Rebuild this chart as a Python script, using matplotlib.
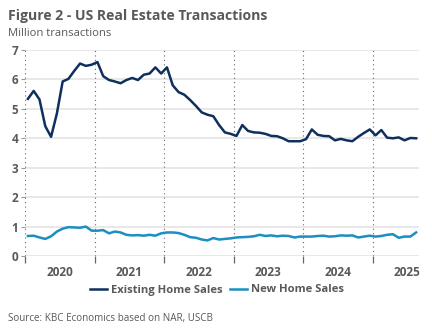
import matplotlib
matplotlib.use("Agg")
import matplotlib.pyplot as plt
import numpy as np

plt.rcParams['font.family'] = ['Open Sans', 'DejaVu Sans']

# Monthly data, Jan 2020 - Aug 2025 (million units, SAAR)
years = ["2020", "2021", "2022", "2023", "2024", "2025"]
existing_home_sales = [
    5.34, 5.61, 5.32, 4.41, 4.05, 4.84, 5.93, 6.02, 6.29, 6.54, 6.46, 6.50,   # 2020
    6.59, 6.11, 5.98, 5.93, 5.87, 5.98, 6.05, 5.98, 6.16, 6.20, 6.41, 6.20,   # 2021
    6.41, 5.80, 5.57, 5.48, 5.30, 5.10, 4.88, 4.80, 4.75, 4.45, 4.20, 4.15,   # 2022
    4.08, 4.45, 4.25, 4.20, 4.19, 4.15, 4.08, 4.07, 4.00, 3.90, 3.90, 3.90,   # 2023
    3.97, 4.30, 4.12, 4.08, 4.07, 3.93, 3.98, 3.93, 3.90, 4.05, 4.18, 4.30,   # 2024
    4.10, 4.28, 4.02, 4.00, 4.03, 3.93, 4.01, 4.00,                           # 2025
]
new_home_sales = [
    0.68, 0.69, 0.63, 0.58, 0.67, 0.83, 0.93, 0.98, 0.97, 0.96, 1.00, 0.86,   # 2020
    0.86, 0.88, 0.77, 0.83, 0.80, 0.72, 0.70, 0.71, 0.69, 0.72, 0.69, 0.77,   # 2021
    0.80, 0.80, 0.78, 0.72, 0.64, 0.62, 0.56, 0.53, 0.61, 0.56, 0.58, 0.60,   # 2022
    0.63, 0.64, 0.65, 0.67, 0.72, 0.68, 0.70, 0.67, 0.69, 0.68, 0.63, 0.66,   # 2023
    0.66, 0.66, 0.68, 0.69, 0.66, 0.67, 0.70, 0.69, 0.70, 0.63, 0.66, 0.69,   # 2024
    0.66, 0.68, 0.72, 0.74, 0.62, 0.66, 0.66, 0.80,                           # 2025
]
series_names = ["Existing Home Sales", "New Home Sales"]

GREY = "#595959"
NAVY = "#0f2f5c"
BLUE = "#1b8ec2"

fig = plt.figure(figsize=(4.32, 3.34), dpi=100)
ax = fig.add_axes([25 / 432, (334 - 256) / 334, (419 - 25) / 432, (256 - 50) / 334])

x = np.arange(len(existing_home_sales))
ax.plot(x, existing_home_sales, color=NAVY, lw=1.8, label=series_names[0],
        solid_joinstyle="round", zorder=3)
ax.plot(x, new_home_sales, color=BLUE, lw=1.8, label=series_names[1],
        solid_joinstyle="round", zorder=3)

ax.set_xlim(-0.5, len(existing_home_sales) - 0.5)
ax.set_ylim(0, 7)

# horizontal grid
ax.set_yticks(range(0, 8))
ax.yaxis.grid(True, color="#e8e8e8", lw=1.4, zorder=0)
ax.set_axisbelow(True)

# year boundaries: dotted separators plus ticks below the axis
bounds = [12 * i - 0.5 for i in range(len(years))]
for b in bounds:
    ax.axvline(b, color="#666666", lw=0.8, ls=(0, (1, 3)), zorder=1)
ax.set_xticks(bounds)
ax.set_xticklabels([])
ax.tick_params(axis="x", length=5, width=0.9, color="#666666", direction="out")
ax.set_xticks([12 * i + 5.5 for i in range(len(years))], minor=True)
ax.set_xticklabels(years, minor=True)
ax.tick_params(axis="x", which="minor", length=0, pad=7, labelsize=8.5,
               labelcolor=GREY)
for lbl in ax.get_xticklabels(minor=True):
    lbl.set_fontweight("bold")

ax.tick_params(axis="y", length=3, width=0.8, color="#999999", pad=2,
               labelsize=8.5, labelcolor=GREY)
for lbl in ax.get_yticklabels():
    lbl.set_fontweight("bold")

for s in ax.spines.values():
    s.set_visible(False)

fig.text(8 / 432, 1 - 16 / 334, "Figure 2 - US Real Estate Transactions",
         fontsize=10.1, fontweight="bold", color=GREY, va="center", ha="left")
fig.text(8 / 432, 1 - 33 / 334, "Million transactions",
         fontsize=8.1, color=GREY, va="center", ha="left")
fig.text(8 / 432, 1 - 318 / 334, "Source: KBC Economics based on NAR, USCB",
         fontsize=7.1, color=GREY, va="center", ha="left")

leg = fig.legend(loc="center", bbox_to_anchor=(217 / 432, 1 - 290 / 334),
                 ncol=2, frameon=False, fontsize=8.1, handlelength=1.5,
                 handletextpad=0.4, columnspacing=0.6)
for t in leg.get_texts():
    t.set_fontweight("bold")
    t.set_color(GREY)

fig.savefig("out.png", dpi=100)
